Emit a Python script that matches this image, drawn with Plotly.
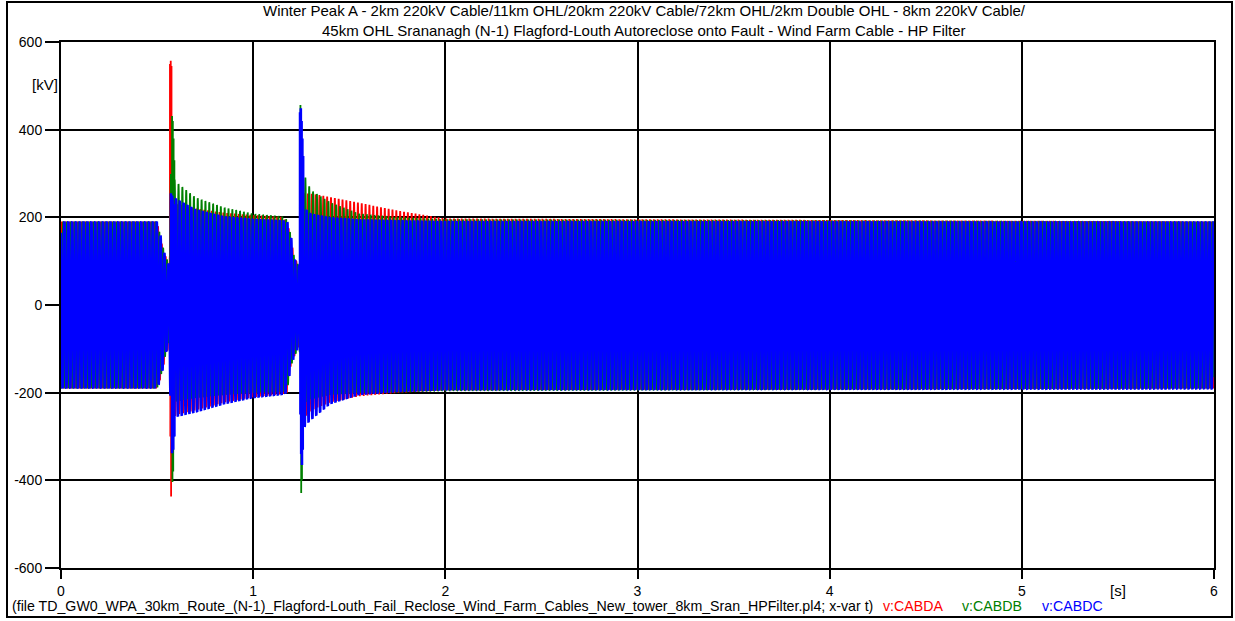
import numpy as np
import plotly.graph_objects as go

# ---- three-phase cable voltages v:CABDA / v:CABDB / v:CABDC (kV) ----
FREQ_HZ = 50.0
T_END = 6.0
SAMPLE_HZ = 5000

# envelope knots (s) and the positive / negative peak envelope of each phase (kV)
knot_t = [0.000, 0.500, 0.520, 0.545, 0.565, 0.572, 0.600, 0.700, 0.850, 1.000,
          1.150, 1.176, 1.195, 1.215, 1.240, 1.258, 1.270, 1.300, 1.400, 1.550,
          1.750, 2.000, 6.000]

a_upper = [190, 190, 145, 110, 95, 235, 230, 220, 210, 205,
           201, 190, 155, 105, 90, 255, 254, 254, 246, 233,
           215, 197, 190]
a_lower = [-190, -190, -165, -115, -90, -265, -250, -240, -222, -210,
           -203, -200, -140, -115, -90, -270, -255, -240, -222, -208,
           -200, -194, -190]

b_upper = [190, 190, 150, 108, 95, 300, 280, 245, 222, 208,
           202, 194, 160, 104, 88, 300, 292, 262, 234, 208,
           200, 195, 190]
b_lower = [-190, -190, -160, -110, -80, -230, -220, -212, -205, -200,
           -198, -198, -140, -118, -90, -240, -225, -215, -205, -200,
           -199, -196, -190]

c_upper = [190, 190, 155, 105, 88, 252, 242, 218, 202, 196,
           193, 192, 162, 103, 87, 235, 220, 208, 200, 195,
           193, 191, 190]
c_lower = [-190, -190, -168, -112, -74, -300, -255, -245, -226, -212,
           -205, -200, -140, -116, -90, -292, -275, -262, -226, -205,
           -198, -194, -192]

# switching transients: fault clearing (~0.57 s) and reclose onto fault (~1.25 s)
a_spike_t = [0.567, 0.569, 0.571, 0.573, 0.575, 0.577, 1.249, 1.254]
a_spike_v = [550, -300, 557, -437, 545, -400, 320, -330]
b_spike_t = [0.578, 0.580, 0.582, 0.584, 0.586, 0.588, 0.590,
             1.246, 1.250, 1.252, 1.254]
b_spike_v = [431, -404, 420, -380, 380, -300, 330,
             456, -429, 300, -400]
c_spike_t = [0.572, 0.578, 0.581, 0.584, 0.587, 0.590,
             1.244, 1.246, 1.248, 1.250, 1.252, 1.254, 1.256, 1.258, 1.260]
c_spike_v = [255, -338, 240, -330, 230, -300,
             440, -250, 449, -340, 420, -365, 380, -330, 340]

phase_deg = {"A": 0.0, "B": -120.0, "C": 120.0}

x_ticks = [0, 1, 2, 3, 4, 5, 6]
y_ticks = [-600, -400, -200, 0, 200, 400, 600]

t = np.arange(0, int(T_END * SAMPLE_HZ) + 1) / SAMPLE_HZ


def phase_wave(upper, lower, shift_deg, spike_t, spike_v):
    up = np.interp(t, knot_t, upper)
    lo = np.interp(t, knot_t, lower)
    mid = 0.5 * (up + lo)
    amp = 0.5 * (up - lo)
    v = mid + amp * np.sin(2 * np.pi * FREQ_HZ * t + np.radians(shift_deg))
    for ts, vs in zip(spike_t, spike_v):
        v[int(round(ts * SAMPLE_HZ))] = vs
    return v


series = [
    ("v:CABDA", "#ff0000", 1.8, a_upper, a_lower, phase_deg["A"], a_spike_t, a_spike_v),
    ("v:CABDB", "#008000", 1.8, b_upper, b_lower, phase_deg["B"], b_spike_t, b_spike_v),
    ("v:CABDC", "#0000ff", 2.6, c_upper, c_lower, phase_deg["C"], c_spike_t, c_spike_v),
]

fig = go.Figure()
for name, color, lw, up, lo, sh, st, sv in series:
    fig.add_trace(go.Scatter(
        x=t, y=phase_wave(up, lo, sh, st, sv), mode="lines", name=name,
        line=dict(color=color, width=lw, simplify=False),
        showlegend=False, hoverinfo="skip",
    ))

W, H = 1235, 621
L, R, T, B = 61, 1214, 42, 568
FONT = "Liberation Sans, Arial, sans-serif"


def px(x):
    return (x - L) / (R - L)


def py(y):
    return (B - y) / (B - T)


annotations = [
    dict(x=px(644), y=py(11), size=15,
         text="Winter Peak A - 2km 220kV Cable/11km OHL/20km 220kV Cable/72km OHL/2km Double OHL - 8km 220kV Cable/"),
    dict(x=px(644), y=py(30), size=15,
         text="45km OHL Srananagh (N-1) Flagford-Louth Autoreclose onto Fault - Wind Farm Cable - HP Filter"),
    dict(x=px(45), y=py(85), size=15, text="[kV]"),
    dict(x=px(1118), y=py(590), size=15, text="[s]"),
    dict(x=px(10), y=py(606), size=14.2, xanchor="left",
         text="(file TD_GW0_WPA_30km_Route_(N-1)_Flagford-Louth_Fail_Reclose_Wind_Farm_Cables_New_tower_8km_Sran_HPFilter.pl4; x-var t)"),
    dict(x=px(881), y=py(606), size=14.2, xanchor="left", text="v:CABDA", color="#ff0000"),
    dict(x=px(960), y=py(606), size=14.2, xanchor="left", text="v:CABDB", color="#008000"),
    dict(x=px(1040), y=py(606), size=14.2, xanchor="left", text="v:CABDC", color="#0000ff"),
]
for a in annotations:
    a.setdefault("xanchor", "center")
    a["font"] = dict(family=FONT, size=a.pop("size"), color=a.pop("color", "#000000"))
    a.update(xref="paper", yref="paper", yanchor="middle", showarrow=False)

fig.update_layout(
    width=W, height=H,
    margin=dict(l=L, r=W - R, t=T, b=H - B, pad=0),
    paper_bgcolor="white", plot_bgcolor="white",
    font=dict(family=FONT, size=14, color="black"),
    annotations=annotations,
    shapes=[dict(type="rect", xref="paper", yref="paper",
                 x0=px(7), x1=px(1232), y0=py(617), y1=py(2),
                 line=dict(color="black", width=2))],
    showlegend=False,
)
fig.update_xaxes(
    range=[0, 6], tickvals=x_ticks, ticktext=[str(v) for v in x_ticks],
    showgrid=True, gridcolor="black", gridwidth=1.5, zeroline=False,
    showline=True, linecolor="black", linewidth=2, mirror=True,
    ticks="outside", ticklen=9, tickwidth=2, tickcolor="black",
    tickfont=dict(family=FONT, size=14),
)
fig.update_yaxes(
    range=[-600, 600], tickvals=y_ticks, ticktext=[str(v) for v in y_ticks],
    showgrid=True, gridcolor="black", gridwidth=1.5, zeroline=False,
    showline=True, linecolor="black", linewidth=2, mirror=True,
    ticks="outside", ticklen=14, tickwidth=2, tickcolor="black",
    tickfont=dict(family=FONT, size=14),
)

fig.write_html("out.html")
